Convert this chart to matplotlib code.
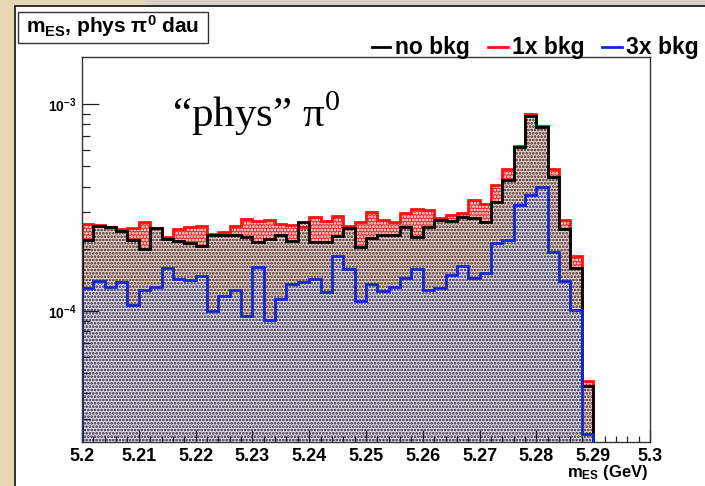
import numpy as np
import matplotlib
matplotlib.use("Agg")
import matplotlib.pyplot as plt
from matplotlib.patches import Rectangle
from matplotlib.lines import Line2D
from matplotlib.ticker import MultipleLocator, LogLocator, NullFormatter

plt.rcParams['mathtext.fontset'] = 'custom'
plt.rcParams['mathtext.bf'] = 'Liberation Sans:bold'
plt.rcParams['mathtext.rm'] = 'Liberation Serif'
plt.rcParams['hatch.linewidth'] = 1.3

# m_ES histograms, 0.002 GeV bins from 5.200 to 5.290 (normalised entries)
bin_lo = 5.2
bin_w = 0.002
no_bkg = np.array([2.20, 2.57, 2.54, 2.44, 2.20, 2.00, 2.52, 2.23, 2.17, 2.14,
                   2.07, 2.33, 2.34, 2.34, 2.29, 2.16, 2.22, 2.33, 2.19, 2.70,
                   2.16, 2.16, 2.30, 2.52, 2.04, 2.26, 2.33, 2.33, 2.54, 2.29,
                   2.54, 2.77, 2.73, 2.84, 2.83, 2.70, 3.37, 4.29, 6.18, 8.75,
                   7.77, 4.46, 2.48, 1.61, 0.434]) * 1e-4
bkg_1x = np.array([2.65, 2.60, 2.55, 2.49, 2.51, 2.69, 2.53, 2.28, 2.48, 2.54,
                   2.59, 2.36, 2.42, 2.59, 2.79, 2.72, 2.75, 2.65, 2.60, 2.55,
                   2.84, 2.72, 2.88, 2.57, 2.70, 3.02, 2.77, 2.70, 2.98, 3.13,
                   3.08, 2.81, 2.91, 2.98, 3.43, 3.31, 4.06, 4.84, 6.27, 8.92,
                   7.83, 4.85, 2.77, 1.85, 0.459]) * 1e-4
bkg_3x = np.array([1.29, 1.40, 1.31, 1.38, 1.07, 1.26, 1.31, 1.61, 1.43, 1.41,
                   1.48, 1.00, 1.18, 1.26, 0.946, 1.64, 0.905, 1.14, 1.35, 1.38,
                   1.43, 1.24, 1.85, 1.59, 1.12, 1.35, 1.25, 1.31, 1.44, 1.60,
                   1.26, 1.30, 1.49, 1.65, 1.44, 1.52, 2.14, 2.21, 3.25, 3.65,
                   3.97, 1.93, 1.40, 1.01, 0.255]) * 1e-4
edges = bin_lo + bin_w * np.arange(len(no_bkg) + 1)

x_ticks = [5.2, 5.21, 5.22, 5.23, 5.24, 5.25, 5.26, 5.27, 5.28, 5.29, 5.3]
x_tick_labels = ["5.2", "5.21", "5.22", "5.23", "5.24", "5.25", "5.26",
                 "5.27", "5.28", "5.29", "5.3"]
y_ticks = [1e-4, 1e-3]
y_tick_labels = [r'$\mathbf{10^{-4}}$', r'$\mathbf{10^{-3}}$']
legend_names = ["no bkg", "1x bkg", "3x bkg"]

W, H = 705, 486
def fx(px):
    return px / W
def fy(py):
    return 1 - py / H

fig = plt.figure(figsize=(W / 100, H / 100), dpi=100, facecolor='#e6d8b4')

# white slide canvas
fig.add_artist(Rectangle((fx(145), fy(5)), 1, 5 / H, transform=fig.transFigure,
                         facecolor='#d6d2c8', edgecolor='none', zorder=-2))
fig.add_artist(Rectangle((fx(15), -0.02), 1.1, (H - 6) / H + 0.02,
                         transform=fig.transFigure, facecolor='white',
                         edgecolor='#222222', lw=1.3, zorder=-1))

ax = fig.add_axes([fx(82), fy(442), (650 - 82) / W, (442 - 57) / H])
ax.set_facecolor('white')
ax.set_yscale('log')
ax.set_xlim(5.2, 5.3)
ax.set_ylim(2.33e-5, 1.69e-3)

base = 1e-7
ax.stairs(bkg_1x, edges, baseline=base, fill=True, facecolor='#e82828',
          edgecolor='white', hatch='.....', linewidth=0, zorder=1)
ax.stairs(no_bkg, edges, baseline=base, fill=True, facecolor='#ebd4cd',
          edgecolor='#372222', hatch='.....', linewidth=0, zorder=1.1)
ax.stairs(bkg_3x, edges, baseline=base, fill=True, facecolor='#e6deeb',
          edgecolor='#23203c', hatch='.....', linewidth=0, zorder=1.2)
ax.stairs(bkg_1x, edges, baseline=base, color='#ff1010', lw=2, zorder=2)
ax.stairs(no_bkg, edges, baseline=base, color='black', lw=2, zorder=2.1)
ax.stairs(bkg_3x, edges, baseline=base, color='#1428d0', lw=2, zorder=2.2)

for s in ['top', 'right', 'bottom', 'left']:
    ax.spines[s].set_color('#333333')
    ax.spines[s].set_linewidth(1.0)
    ax.spines[s].set_zorder(3)

ax.set_xticks(x_ticks, labels=x_tick_labels)
ax.xaxis.set_minor_locator(MultipleLocator(0.002))
ax.set_yticks(y_ticks, labels=y_tick_labels)
ax.yaxis.set_minor_locator(LogLocator(base=10, subs=np.arange(2, 10)))
ax.yaxis.set_minor_formatter(NullFormatter())
ax.tick_params(which='both', direction='in', top=False, right=False,
               color='#222222', width=0.9)
ax.xaxis.set_tick_params(which='major', length=8.3, pad=4, labelsize=13)
ax.xaxis.set_tick_params(which='minor', length=4.1)
ax.yaxis.set_tick_params(which='major', length=12.3, pad=4, labelsize=10)
ax.yaxis.set_tick_params(which='minor', length=6.1)
for lab in ax.get_xticklabels():
    lab.set_fontfamily('Liberation Sans')
    lab.set_fontweight('bold')

ax.set_xlabel(r'$\mathbf{m_{ES}}$ (GeV)', loc='right', fontsize=12,
              fontfamily='Liberation Sans', fontweight='bold')
ax.xaxis.set_label_coords(0.997, -0.055)

ax.text(0.158, 0.818, r'“phys” $\mathrm{\pi}^{0}$', transform=ax.transAxes,
        fontsize=31, fontfamily='Liberation Serif', va='baseline', ha='left')

# title box
fig.add_artist(Rectangle((fx(18), fy(43)), 190 / W, 31 / H, transform=fig.transFigure,
                         facecolor='white', edgecolor='#333333', lw=1.0))
fig.text(fx(26), fy(33), r'$\mathbf{m_{ES}}$, phys $\mathbf{\pi^{0}}$ dau',
         fontsize=15, fontfamily='Liberation Sans', fontweight='bold',
         va='baseline', ha='left')

# legend row
leg_colors = ['black', '#ff1010', '#1428d0']
leg_line_x = [(372, 390), (488, 508), (602, 622)]
leg_text_x = [395, 512, 626]
for name, c, (x0, x1), tx in zip(legend_names, leg_colors, leg_line_x, leg_text_x):
    fig.add_artist(Line2D([fx(x0), fx(x1)], [fy(47), fy(47)], color=c, lw=2,
                          transform=fig.transFigure))
    fig.text(fx(tx), fy(54), name, fontsize=16.5, fontfamily='Liberation Sans',
             fontweight='bold', va='baseline', ha='left')

fig.savefig('out.png', dpi=100, facecolor=fig.get_facecolor())
